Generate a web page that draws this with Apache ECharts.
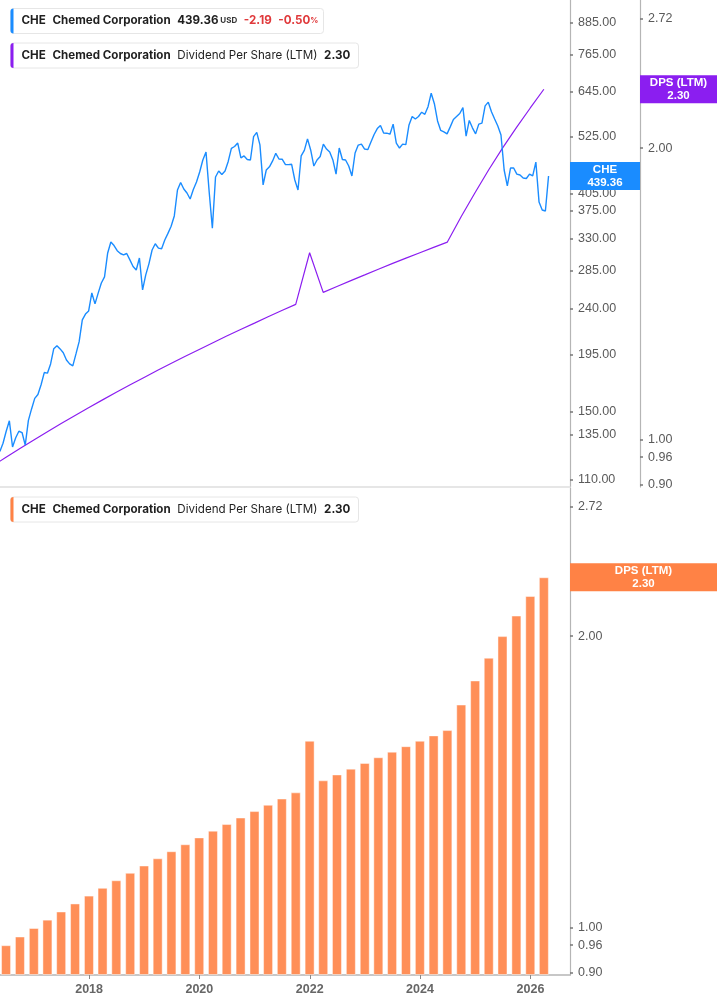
<!DOCTYPE html>
<html>
<head>
<meta charset="utf-8">
<title>CHE Chemed Corporation</title>
<script src="https://cdn.jsdelivr.net/npm/echarts@6/dist/echarts.min.js"></script>
<style>
  html, body { margin: 0; padding: 0; background: #fff; }
  #main { width: 717px; height: 1005px; }
</style>
</head>
<body>
<div id="main"></div>
<script>
// price series: one reading every 21 days from the start date
const priceStart = [2016, 4, 20]
const priceStepDays = 21
const priceValues = [
  125.2, 130.0, 137.3, 144.0, 127.8, 133.3, 137.3, 136.5, 128.9, 144.3,
  152.0, 159.5, 162.3, 169.7, 179.4, 178.9, 186.6, 200.0, 202.8, 199.8,
  196.4, 190.0, 186.6, 184.9, 195.3, 206.5, 228.0, 234.2, 237.5, 257.8,
  245.3, 257.6, 269.8, 277.5, 309.4, 325.2, 320.0, 312.6, 308.6, 306.6,
  308.6, 299.7, 290.9, 286.3, 302.4, 261.4, 279.9, 294.4, 313.6, 322.6,
  316.2, 315.4, 328.2, 338.2, 349.5, 366.2, 412.2, 426.5, 414.1, 406.5,
  395.6, 413.1, 427.5, 447.5, 472.6, 490.0, 408.5, 346.2, 437.4, 449.4,
  442.3, 449.4, 469.4, 498.3, 502.5, 510.5, 477.0, 481.3, 473.7, 472.6,
  525.6, 536.0, 506.2, 421.8, 451.5, 458.0, 470.5, 487.1, 474.7, 474.3,
  463.0, 462.6, 463.4, 431.4, 412.2, 481.3, 493.7, 520.2, 494.6, 459.7,
  472.6, 480.2, 507.9, 496.8, 490.0, 472.6, 443.2, 499.0, 473.7, 472.6,
  459.7, 439.4, 487.8, 505.7, 507.9, 496.8, 495.3, 512.9, 530.8, 545.3,
  553.1, 534.4, 533.9, 531.5, 556.5, 510.5, 499.0, 507.9, 506.8, 554.3,
  576.1, 569.7, 576.1, 587.5, 581.8, 602.5, 640.4, 610.8, 564.5, 540.6,
  537.0, 532.2, 549.5, 568.4, 576.1, 584.0, 599.9, 527.0, 565.8, 547.2,
  532.2, 556.5, 558.9, 604.6, 615.0, 588.9, 569.7, 551.9, 529.5, 451.5,
  419.9, 455.6, 455.6, 443.2, 441.3, 435.4, 434.4, 443.2, 439.4, 468.1,
  390.1, 376.3, 374.6, 439.36
]
const lastPrice = 439.36

// dividend per share (LTM), quarter ends
const dpsDates = [
  '2016-03-31', '2016-06-30', '2016-09-30', '2016-12-31',
  '2017-03-31', '2017-06-30', '2017-09-30', '2017-12-31',
  '2018-03-31', '2018-06-30', '2018-09-30', '2018-12-31',
  '2019-03-31', '2019-06-30', '2019-09-30', '2019-12-31',
  '2020-03-31', '2020-06-30', '2020-09-30', '2020-12-31',
  '2021-03-31', '2021-06-30', '2021-09-30', '2021-12-31',
  '2022-03-31', '2022-06-30', '2022-09-30', '2022-12-31',
  '2023-03-31', '2023-06-30', '2023-09-30', '2023-12-31',
  '2024-03-31', '2024-06-30', '2024-09-30', '2024-12-31',
  '2025-03-31', '2025-06-30', '2025-09-30', '2025-12-31',
  '2026-03-31'
]
const dpsValues = [
  0.94, 0.96, 0.98, 1.00,
  1.02, 1.04, 1.06, 1.08,
  1.10, 1.12, 1.14, 1.16,
  1.18, 1.20, 1.22, 1.24,
  1.26, 1.28, 1.30, 1.32,
  1.34, 1.36, 1.38, 1.56,
  1.42, 1.44, 1.46, 1.48,
  1.50, 1.52, 1.54, 1.56,
  1.58, 1.60, 1.70, 1.80,
  1.90, 2.00, 2.10, 2.20,
  2.30
]
const lastDps = 2.30

const priceTicks = [110, 135, 150, 195, 240, 285, 330, 375, 405, 525, 645, 765, 885]
const dpsTicks = [0.90, 0.96, 1.00, 2.00, 2.72]
const yearTicks = ['2018-01-01', '2020-01-01', '2022-01-01', '2024-01-01', '2026-01-01']

const xMin = '2016-05-21'
const xMax = '2026-09-20'
const priceMin = 106.5, priceMax = 979.6
const dpsMin = 0.8944, dpsMax = 2.843

const blue = '#1a8cff'
const purple = '#8b1ef0'
const orange = '#ff8f58'
const tagOrange = '#ff8245'
const axisGrey = '#b5b5b5'
const labelGrey = '#5a5a5a'

// dates as local-midnight timestamps
function ts(s) {
  let p = s.split('-')
  return new Date(+p[0], +p[1] - 1, +p[2]).getTime()
}

let priceDates = priceValues.map((v, i) => {
  let d = new Date(priceStart[0], priceStart[1], priceStart[2])
  d.setDate(d.getDate() + i * priceStepDays)
  return d.getTime()
})

const chart = echarts.init(document.getElementById('main'), null, { renderer: 'canvas' })

// value axis helper (log scale, labels on the right)
function logAxis(grid, min, max, ticks, offset) {
  return {
    type: 'log',
    gridIndex: grid,
    position: 'right',
    offset: offset,
    min: min,
    max: max,
    axisLine: { show: true, onZero: false, lineStyle: { color: axisGrey, width: 1.2 } },
    axisTick: { show: true, customValues: ticks, length: 3, lineStyle: { color: '#777', width: 1.5 } },
    axisLabel: {
      customValues: ticks,
      formatter: v => Number(v).toFixed(2),
      color: labelGrey,
      fontFamily: 'Liberation Sans, Arial, sans-serif',
      fontSize: 12.5,
      margin: 8
    },
    splitLine: { show: false }
  }
}

// price tag boxes sitting on an axis
function tagAxis(grid, min, max, value, text, color, width, offset) {
  return {
    type: 'log',
    gridIndex: grid,
    position: 'right',
    offset: offset,
    min: min,
    max: max,
    axisLine: { show: false },
    axisTick: { show: false },
    splitLine: { show: false },
    axisLabel: {
      customValues: [value],
      formatter: () => text,
      color: '#fff',
      fontFamily: 'Liberation Sans, Arial, sans-serif',
      fontWeight: 'bold',
      fontSize: 11.5,
      lineHeight: 13,
      backgroundColor: color,
      width: width,
      align: 'center',
      padding: [1, 0, 1, 0],
      margin: width / 2
    }
  }
}

function legendBox(top, width, color, text) {
  return {
    type: 'group',
    left: 10,
    top: top,
    children: [
      {
        type: 'rect',
        shape: { x: 0, y: 0, width: width, height: 25, r: 3 },
        style: { fill: '#fff', stroke: '#e6e6e6', lineWidth: 1 }
      },
      {
        type: 'rect',
        shape: { x: 0, y: 0, width: 3, height: 25, r: [3, 0, 0, 3] },
        style: { fill: color }
      },
      {
        type: 'text',
        style: {
          x: 11,
          y: 12.5,
          text: text,
          verticalAlign: 'middle',
          rich: {
            b: { fontFamily: 'Inter', fontSize: 11.6, fontWeight: 'bold', fill: '#1f1f1f' },
            n: { fontFamily: 'Inter', fontSize: 11.6, fill: '#1f1f1f' },
            u: { fontFamily: 'Inter', fontSize: 8, fontWeight: 'bold', fill: '#333' },
            r: { fontFamily: 'Inter', fontSize: 11.6, fontWeight: 'bold', fill: '#e0393b' },
            rp: { fontFamily: 'Inter', fontSize: 8, fontWeight: 'bold', fill: '#e0393b' }
          }
        }
      }
    ]
  }
}

function dateAxis(grid, showLabels) {
  return {
    type: 'value', gridIndex: grid, min: ts(xMin), max: ts(xMax),
    axisLine: { show: true, onZero: false, lineStyle: { color: showLabels ? axisGrey : '#dedede', width: 1.5 } },
    axisTick: { show: showLabels, customValues: yearTicks.map(ts), length: 4, lineStyle: { color: '#888' } },
    axisLabel: {
      show: showLabels,
      customValues: yearTicks.map(ts),
      formatter: v => String(new Date(v).getFullYear()),
      color: '#666',
      fontWeight: 'bold',
      fontFamily: 'Liberation Sans, Arial, sans-serif',
      fontSize: 12.5,
      margin: 8
    },
    splitLine: { show: false }
  }
}

let option = {
  animation: false,
  backgroundColor: '#fff',
  grid: [
    { left: 0, right: 147, top: 0, height: 487, outerBoundsMode: 'none' },
    { left: 0, right: 147, top: 488, height: 487, outerBoundsMode: 'none' }
  ],
  xAxis: [dateAxis(0, false), dateAxis(1, true)],
  yAxis: [
    logAxis(0, priceMin, priceMax, priceTicks, 0),
    logAxis(0, dpsMin, dpsMax, dpsTicks, 70),
    Object.assign(logAxis(1, dpsMin, dpsMax, dpsTicks, 0), { startValue: dpsMin }),
    tagAxis(0, priceMin, priceMax, lastPrice, 'CHE\n' + lastPrice.toFixed(2), blue, 70, 0),
    tagAxis(0, dpsMin, dpsMax, lastDps, 'DPS (LTM)\n' + lastDps.toFixed(2), purple, 77, 70),
    tagAxis(1, dpsMin, dpsMax, lastDps, 'DPS (LTM)\n' + lastDps.toFixed(2), tagOrange, 147, 0)
  ],
  graphic: [
    legendBox(8, 313, blue,
      '{b|CHE}  {b|Chemed Corporation}  {b|' + lastPrice.toFixed(2) + '}{u| USD}  {r|-2.19}  {r|-0.50}{rp|%}'),
    legendBox(42.5, 348, purple,
      '{b|CHE}  {b|Chemed Corporation}  {n|Dividend Per Share (LTM)}  {b|' + lastDps.toFixed(2) + '}'),
    legendBox(496.5, 348, tagOrange,
      '{b|CHE}  {b|Chemed Corporation}  {n|Dividend Per Share (LTM)}  {b|' + lastDps.toFixed(2) + '}')
  ],
  series: [
    {
      name: 'DPS (LTM)',
      type: 'line',
      xAxisIndex: 0,
      yAxisIndex: 1,
      showSymbol: false,
      symbol: 'none',
      lineStyle: { color: purple, width: 1.2 },
      data: dpsDates.map((d, i) => [ts(d), dpsValues[i]])
    },
    {
      name: 'CHE',
      type: 'line',
      xAxisIndex: 0,
      yAxisIndex: 0,
      showSymbol: false,
      symbol: 'none',
      lineStyle: { color: blue, width: 1.4 },
      data: priceDates.map((d, i) => [d, priceValues[i]])
    },
    {
      name: 'DPS (LTM) bars',
      type: 'bar',
      xAxisIndex: 1,
      yAxisIndex: 2,
      barWidth: 10,
      itemStyle: { color: orange, borderColor: 'rgba(255,255,255,0.45)', borderWidth: 1 },
      data: dpsDates.map((d, i) => [ts(d), dpsValues[i]])
    }
  ]
}

chart.setOption(option)
</script>
</body>
</html>
